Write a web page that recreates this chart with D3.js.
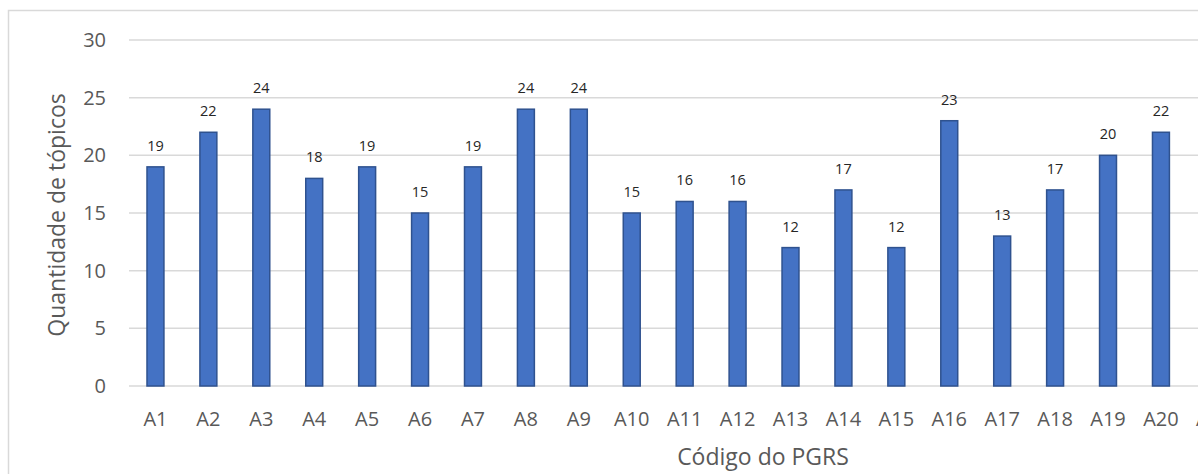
<!DOCTYPE html>
<html>
<head>
<meta charset="utf-8">
<script src="https://cdn.jsdelivr.net/npm/d3@7"></script>
<style>
  html, body { margin: 0; padding: 0; background: #fff; overflow: hidden; }
  svg { display: block; font-family: "Open Sans", sans-serif; }
</style>
</head>
<body>
<svg id="chart" width="1198" height="474"></svg>
<script>
const categories = ["A1","A2","A3","A4","A5","A6","A7","A8","A9","A10","A11","A12","A13","A14","A15","A16","A17","A18","A19","A20","A21"];
const values = [19,22,24,18,19,15,19,24,24,15,16,16,12,17,12,23,13,17,20,22,18];
const yTicks = [0,5,10,15,20,25,30];
const yTitle = "Quantidade de tópicos";
const xTitle = "Código do PGRS";

(function () {
const W = 1198;
const svg = d3.select("#chart");
const pLeft = 129, pTop = 40, pBottom = 386;
const step = 52.92;
const pRight = pLeft + step * categories.length;

// outer chart frame (extends beyond visible area)
svg.append("rect")
  .attr("x", 8.5).attr("y", 10.5)
  .attr("width", 1400).attr("height", 700)
  .attr("fill", "none").attr("stroke", "#d9d9d9").attr("stroke-width", 1.5);

const x = d3.scaleBand().domain(categories).range([pLeft, pRight])
  .paddingInner(0.68).paddingOuter(0.34);
const y = d3.scaleLinear().domain([0, 30]).range([pBottom, pTop]);

// gridlines
svg.append("g").selectAll("line").data(yTicks).join("line")
  .attr("x1", pLeft).attr("x2", W)
  .attr("y1", d => y(d)).attr("y2", d => y(d))
  .attr("stroke", "#d9d9d9").attr("stroke-width", 1.5);

// y axis labels
const yAxis = d3.axisLeft(y).tickValues(yTicks).tickSize(0).tickPadding(0);
const gy = svg.append("g").attr("transform", `translate(106,0)`).call(yAxis);
gy.select(".domain").remove();
gy.selectAll("text").attr("font-size", 20).attr("fill", "#595959")
  .attr("font-family", "Open Sans, sans-serif");

// bars
svg.append("g").selectAll("rect").data(values).join("rect")
  .attr("x", (d, i) => x(categories[i]))
  .attr("y", d => y(d))
  .attr("width", x.bandwidth())
  .attr("height", d => y(0) - y(d))
  .attr("fill", "#4472C4")
  .attr("stroke", "#2F528F").attr("stroke-width", 1.5);

// data labels (only those inside the visible frame)
const lbl = values.map((v, i) => ({v, cx: x(categories[i]) + x.bandwidth() / 2}))
  .filter(d => d.cx < W);
svg.append("g").selectAll("text").data(lbl).join("text")
  .attr("x", d => d.cx)
  .attr("y", d => y(d.v) - 16)
  .attr("text-anchor", "middle")
  .attr("font-size", 14.5).attr("fill", "#262626")
  .text(d => d.v);

// x axis labels
const xAxis = d3.axisBottom(x).tickSize(0).tickPadding(0);
const gx = svg.append("g").attr("transform", `translate(0,${pBottom})`).call(xAxis);
gx.select(".domain").remove();
gx.selectAll("text").attr("font-size", 20).attr("fill", "#595959")
  .attr("font-family", "Open Sans, sans-serif")
  .attr("dy", null).attr("y", 40);

// axis titles
svg.append("text")
  .attr("transform", `translate(65,215) rotate(-90)`)
  .attr("text-anchor", "middle")
  .attr("font-size", 23).attr("fill", "#595959")
  .text(yTitle);

svg.append("text")
  .attr("x", 763).attr("y", 465)
  .attr("text-anchor", "middle")
  .attr("font-size", 23).attr("fill", "#595959")
  .text(xTitle);
})();
</script>
</body>
</html>
